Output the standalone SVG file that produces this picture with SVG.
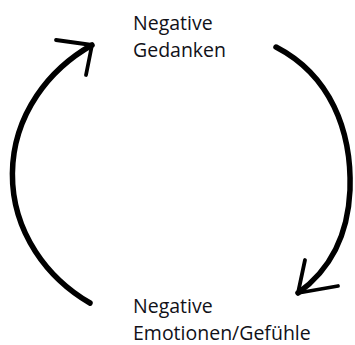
<svg xmlns="http://www.w3.org/2000/svg" width="355" height="345" viewBox="0 0 355 345">
<style>
.arc{fill:none;stroke:#000;stroke-width:5.5;stroke-linecap:round;stroke-linejoin:round}
.head{fill:none;stroke:#000;stroke-width:3.8;stroke-linecap:round;stroke-linejoin:round}
.lbl{font-family:"Open Sans","Liberation Sans",sans-serif;font-size:19.5px;fill:#111118}
</style>
<rect width="355" height="345" fill="#fff"/>
<g id="connectors">
<path class="arc" d="M90,303 A170,153 0 0 1 92,45"/>
<path class="head" d="M56,40 L92,45 L86,75"/>
<path class="arc" d="M276,47 C330,75 352,130 350,190 C348,235 330,270 298,293"/>
<path class="head" d="M305,260 L298,293 L338,286"/>
</g>
<g id="node-gedanken">
<text class="lbl" x="133" y="30">Negative</text>
<text class="lbl" x="133" y="57">Gedanken</text>
</g>
<g id="node-emotionen">
<text class="lbl" x="133" y="313">Negative</text>
<text class="lbl" x="133" y="340">Emotionen/Gefühle</text>
</g>
</svg>
